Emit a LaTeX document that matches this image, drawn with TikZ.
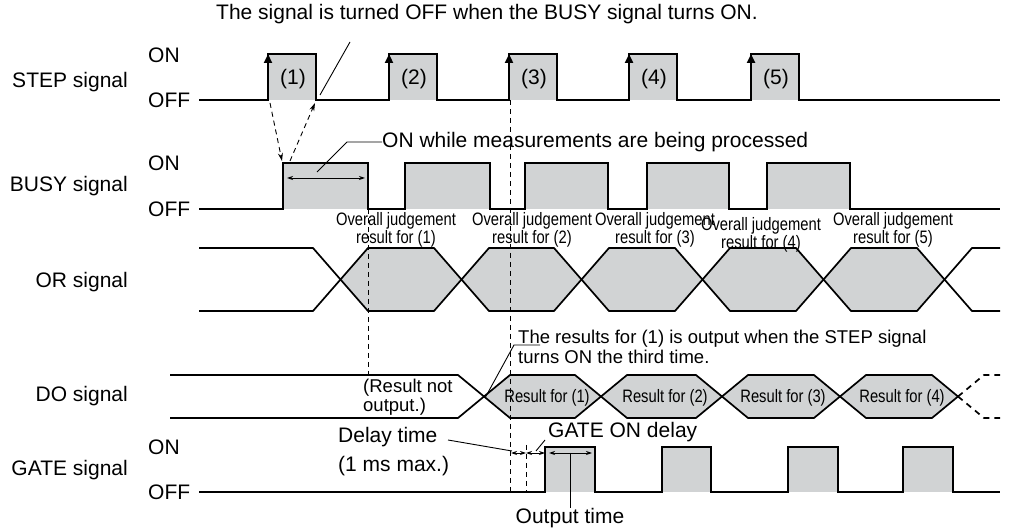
\documentclass[tikz,border=0pt]{standalone}
\usepackage{fontspec}
\setmainfont{Liberation Sans}
\newfontfamily\narrowfont[FakeStretch=0.82]{Liberation Sans}
\usetikzlibrary{arrows.meta}
\definecolor{sigfill}{RGB}{209,211,212}
\newcommand{\sigsize}{\fontsize{21}{24}\selectfont}
\newcommand{\notesize}{\fontsize{18.5}{19.5}\selectfont}
\newcommand{\judgesize}{\narrowfont\fontsize{18}{14}\selectfont}

\begin{document}
\begin{tikzpicture}[x=1pt, y=-1pt,
  every node/.style={font=\sigsize, inner sep=0pt},
  pulseline/.style={line width=2.2pt, line join=miter},
  busline/.style={line width=1.7pt},
  guideline/.style={line width=0.9pt, dash pattern=on 5pt off 4pt},
  leader/.style={line width=0.9pt},
  dimarrow/.style={line width=0.9pt, {Stealth[length=6pt,width=4pt]}-{Stealth[length=6pt,width=4pt]}},
  risearrow/.style={line width=2.6pt, -{Triangle[length=9pt,width=8pt]}}]
  \useasboundingbox (0,0) rectangle (1013,529);

  % signal names
  \node[anchor=east] (stepname) at (128,82) {STEP signal};
  \node[anchor=east] (busyname) at (128,186) {BUSY signal};
  \node[anchor=east] (orname) at (128,282) {OR signal};
  \node[anchor=east] (doname) at (128,396) {DO signal};
  \node[anchor=east] (gatename) at (128,470) {GATE signal};
  \node[anchor=west] (stepon) at (148,55) {ON};
  \node[anchor=west] (stepoff) at (148,100) {OFF};
  \node[anchor=west] (busyon) at (148,163) {ON};
  \node[anchor=west] (busyoff) at (148,209) {OFF};
  \node[anchor=west] (gateon) at (148,447) {ON};
  \node[anchor=west] (gateoff) at (148,492) {OFF};

  % STEP signal
  \fill[sigfill] (268,54) rectangle (316,100);
  \fill[sigfill] (389,54) rectangle (437,100);
  \fill[sigfill] (509,54) rectangle (557,100);
  \fill[sigfill] (629,54) rectangle (677,100);
  \fill[sigfill] (751,54) rectangle (799,100);
  \draw[pulseline] (199,100) -- (268,100) -- (268,54) -- (316,54) -- (316,100)
    -- (389,100) -- (389,54) -- (437,54) -- (437,100)
    -- (509,100) -- (509,54) -- (557,54) -- (557,100)
    -- (629,100) -- (629,54) -- (677,54) -- (677,100)
    -- (751,100) -- (751,54) -- (799,54) -- (799,100) -- (1000,100);
  \draw[risearrow] (268,101) -- (268,54);
  \draw[risearrow] (389,101) -- (389,54);
  \draw[risearrow] (509,101) -- (509,54);
  \draw[risearrow] (629,101) -- (629,54);
  \draw[risearrow] (751,101) -- (751,54);
  \node (step1) at (293,79) {(1)};
  \node (step2) at (414,79) {(2)};
  \node (step3) at (534,79) {(3)};
  \node (step4) at (654,79) {(4)};
  \node (step5) at (776,79) {(5)};

  % BUSY signal
  \fill[sigfill] (283,163) rectangle (368,209);
  \fill[sigfill] (405,163) rectangle (490,209);
  \fill[sigfill] (525,163) rectangle (608,209);
  \fill[sigfill] (647,163) rectangle (729,209);
  \fill[sigfill] (767,163) rectangle (850,209);
  \draw[pulseline] (199,209) -- (283,209) -- (283,163) -- (368,163) -- (368,209)
    -- (405,209) -- (405,163) -- (490,163) -- (490,209)
    -- (525,209) -- (525,163) -- (608,163) -- (608,209)
    -- (647,209) -- (647,163) -- (729,163) -- (729,209)
    -- (767,209) -- (767,163) -- (850,163) -- (850,209) -- (1000,209);
  \draw[dimarrow] (287,178) -- (365,178);

  % STEP -> BUSY hand-over
  \coordinate (steprise) at (270,103);
  \coordinate (busyrise) at (282,161);
  \coordinate (busyback) at (290,161);
  \coordinate (stepfall) at (315,103);
  \draw[guideline, -{Stealth[length=8pt,width=5pt]}] (steprise) -- (busyrise);
  \draw[guideline, -{Stealth[length=8pt,width=5pt]}] (busyback) -- (stepfall);

  % OR signal
  \fill[sigfill] (340.5,279.5) -- (368,248) -- (434,248) -- (461.5,279.5) -- (434,311) -- (368,311) -- cycle;
  \fill[sigfill] (461.5,279.5) -- (489,248) -- (554,248) -- (581.5,279.5) -- (554,311) -- (489,311) -- cycle;
  \fill[sigfill] (581.5,279.5) -- (609,248) -- (675,248) -- (702.5,279.5) -- (675,311) -- (609,311) -- cycle;
  \fill[sigfill] (702.5,279.5) -- (730,248) -- (796,248) -- (823.5,279.5) -- (796,311) -- (730,311) -- cycle;
  \fill[sigfill] (823.5,279.5) -- (851,248) -- (917,248) -- (944.5,279.5) -- (917,311) -- (851,311) -- cycle;
  \draw[busline] (199,248) -- (313,248) -- (368,311) -- (434,311) -- (489,248) -- (554,248)
    -- (609,311) -- (675,311) -- (730,248) -- (796,248) -- (851,311) -- (917,311) -- (972,248) -- (1000,248);
  \draw[busline] (199,311) -- (313,311) -- (368,248) -- (434,248) -- (489,311) -- (554,311)
    -- (609,248) -- (675,248) -- (730,311) -- (796,311) -- (851,248) -- (917,248) -- (972,311) -- (1000,311);
  \node[font=\judgesize, align=center] (judge1) at (396,230) {Overall judgement\\result for (1)};
  \node[font=\judgesize, align=center] (judge2) at (532,230) {Overall judgement\\result for (2)};
  \node[font=\judgesize, align=center] (judge3) at (655,230) {Overall judgement\\result for (3)};
  \node[font=\judgesize, align=center] (judge4) at (761,235) {Overall judgement\\result for (4)};
  \node[font=\judgesize, align=center] (judge5) at (893,230) {Overall judgement\\result for (5)};

  % DO signal
  \fill[sigfill] (484,396.5) -- (510,375) -- (575,375) -- (601,396.5) -- (575,418) -- (510,418) -- cycle;
  \fill[sigfill] (601,396.5) -- (627,375) -- (696,375) -- (722,396.5) -- (696,418) -- (627,418) -- cycle;
  \fill[sigfill] (722,396.5) -- (748,375) -- (814,375) -- (840,396.5) -- (814,418) -- (748,418) -- cycle;
  \fill[sigfill] (840,396.5) -- (866,375) -- (932,375) -- (958,396.5) -- (932,418) -- (866,418) -- cycle;
  \draw[busline] (170,375) -- (458,375) -- (510,418) -- (575,418) -- (627,375) -- (696,375)
    -- (748,418) -- (814,418) -- (866,375) -- (932,375) -- (958,396.5);
  \draw[busline] (170,418) -- (458,418) -- (510,375) -- (575,375) -- (627,418) -- (696,418)
    -- (748,375) -- (814,375) -- (866,418) -- (932,418) -- (958,396.5);
  \draw[busline, dash pattern=on 6pt off 5pt] (958,396.5) -- (984,375) -- (1000,375);
  \draw[busline, dash pattern=on 6pt off 5pt] (958,396.5) -- (984,418) -- (1000,418);
  \node[font=\notesize, anchor=west, align=left] (noresult) at (363,397) {(Result not\\output.)};
  \node[font=\judgesize] (result1) at (547,398) {Result for (1)};
  \node[font=\judgesize] (result2) at (665,398) {Result for (2)};
  \node[font=\judgesize] (result3) at (783,398) {Result for (3)};
  \node[font=\judgesize] (result4) at (902,398) {Result for (4)};

  % GATE signal
  \fill[sigfill] (545,447) rectangle (595,492);
  \fill[sigfill] (662,447) rectangle (711,492);
  \fill[sigfill] (788,447) rectangle (838,492);
  \fill[sigfill] (903,447) rectangle (953,492);
  \draw[pulseline] (199,492) -- (545,492) -- (545,447) -- (595,447) -- (595,492)
    -- (662,492) -- (662,447) -- (711,447) -- (711,492)
    -- (788,492) -- (788,447) -- (838,447) -- (838,492)
    -- (903,492) -- (903,447) -- (953,447) -- (953,492) -- (1000,492);

  % timing guides
  \draw[guideline] (368,209) -- (368,375);
  \draw[guideline] (510,100) -- (510,492);
  \draw[guideline] (526,445) -- (526,492);
  \draw[dimarrow] (511,453) -- (526,453);
  \draw[dimarrow] (526,453) -- (545,453);
  \draw[dimarrow] (549,453) -- (592,453);

  % notes
  \node[anchor=west] (title) at (216,14) {The signal is turned OFF when the BUSY signal turns ON.};
  \coordinate (titlefoot) at (350,42);
  \draw[leader] (320,95) -- (titlefoot);
  \node[anchor=west] (busynote) at (382,142) {ON while measurements are being processed};
  \draw[leader] (317,172) -- (347,142) -- (busynote.west);
  \node[font=\notesize, anchor=west, align=left] (donote) at (518,347) {The results for (1) is output when the STEP signal\\turns ON the third time.};
  \draw[leader] (485,398) -- (514,345) -- (540,345);
  \node[anchor=west] (gatenote) at (548,432) {GATE ON delay};
  \draw[leader] (536,451) -- (545,440);
  \node[anchor=west, align=left, font=\fontsize{21}{29}\selectfont] (delaynote) at (338,452) {Delay time\\(1 ms max.)};
  \draw[leader] (448,440) -- (512,451);
  \node (outnote) at (570,518) {Output time};
  \draw[leader] (570,453) -- (outnote.north);
\end{tikzpicture}
\end{document}
